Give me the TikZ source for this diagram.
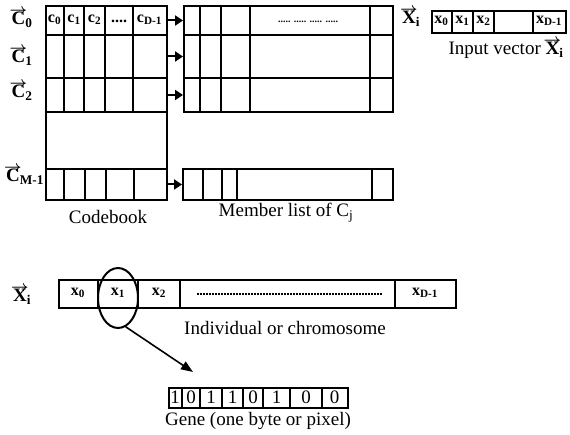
\documentclass[tikz,border=0pt]{standalone}
\usepackage{fix-cm}
\usepackage{amsmath}
\usepackage{graphicx}
\usepackage{fontspec}
\setmainfont{Liberation Serif}
\usetikzlibrary{arrows.meta,shapes.geometric}
\newcommand\varr{\raisebox{0.52em}{\scalebox{0.8}[0.8]{$\boldsymbol{\rightarrow}$}}}
\newcommand\vlab[2]{\textbf{\ooalign{#1\cr\hidewidth\varr\hidewidth\cr}}$_{\text{\bfseries #2}}$}
\newcommand\bsub[2]{\textbf{#1}$_{\text{\bfseries #2}}$}
\begin{document}
\begin{tikzpicture}[x=1pt,y=-1pt,
  frame/.style={draw,line width=2pt,inner sep=0pt,anchor=north west},
  div/.style={line width=2pt},
  lbl/.style={inner sep=0pt,font=\fontsize{16}{18}\selectfont\bfseries},
  veclab/.style={inner sep=0pt,font=\fontsize{19}{21}\selectfont},
  captxt/.style={inner sep=0pt,font=\fontsize{19}{22}\selectfont},
  bit/.style={inner sep=0pt,font=\fontsize{19}{21}\selectfont},
  arr/.style={line width=2pt,-{Triangle[length=8pt,width=10pt]}},
  arrb/.style={line width=1.6pt,-{Triangle[length=12pt,width=9pt]}},
  selell/.style={draw,ellipse,line width=2pt,inner sep=0pt,minimum width=40pt,minimum height=60pt}]
\useasboundingbox (0,0) rectangle (570,435);

% ---------- Codebook ----------
\node[frame,minimum width=121pt,minimum height=29pt] (cb0) at (45,5) {};
\node[frame,minimum width=121pt,minimum height=43pt] (cb1) at (45,34) {};
\node[frame,minimum width=121pt,minimum height=34pt] (cb2) at (45,77) {};
\node[frame,minimum width=121pt,minimum height=57pt] (cbgap) at (45,111) {};
\node[frame,minimum width=121pt,minimum height=31pt] (cbM) at (45,168) {};
\foreach \x in {64,84,105,133} \draw[div] (\x,5) -- (\x,111);
\foreach \x in {64,85,106,134} \draw[div] (\x,168) -- (\x,199);
\node[lbl] (c0) at (54.5,19.5) {\bsub{c}{0}};
\node[lbl] (c1) at (74,19.5) {\bsub{c}{1}};
\node[lbl] (c2) at (94.5,19.5) {\bsub{c}{2}};
\node[lbl] (cdots) at (119,21) {....};
\node[lbl] (cD) at (149.5,19.5) {\bsub{c}{D-1}};
\node[veclab] (C0) at (22,20) {\vlab{C}{0}};
\node[veclab] (C1) at (22,58) {\vlab{C}{1}};
\node[veclab] (C2) at (22,93) {\vlab{C}{2}};
\node[veclab] (CM) at (25,177) {\vlab{C}{M-1}};
\node[captxt] (cbcap) at (108,217) {Codebook};

% ---------- Member lists ----------
\node[frame,minimum width=209pt,minimum height=29pt] (ml0) at (183,5) {};
\node[frame,minimum width=209pt,minimum height=43pt] (ml1) at (183,34) {};
\node[frame,minimum width=209pt,minimum height=34pt] (ml2) at (183,77) {};
\foreach \x in {200,221,250,370} \draw[div] (\x,5) -- (\x,111);
\node[frame,minimum width=210pt,minimum height=31pt] (mlM) at (182,168) {};
\foreach \x in {203,222,237,372} \draw[div] (\x,168) -- (\x,199);
\node[inner sep=0pt,font=\fontsize{10}{10}\selectfont\bfseries] (mldots) at (308,22) {..... ..... ..... .....};
\node[captxt] (mlcap) at (286,213) {Member list of C$_{\text{j}}$};

\draw[arr] (cb0.east) -- (ml0.west);
\draw[arr] (cb1.east) -- (ml1.west);
\draw[arr] (cb2.east) -- (ml2.west);
\draw[arr] (cbM.east) -- (mlM.west);

% ---------- Input vector ----------
\node[veclab] (Xi) at (411,19) {\vlab{X}{i}};
\node[frame,minimum width=134pt,minimum height=22pt] (iv) at (431,10) {};
\foreach \x in {452,473,494,533} \draw[div] (\x,10) -- (\x,32);
\node[lbl] (ix0) at (441.5,21) {\bsub{x}{0}};
\node[lbl] (ix1) at (462.5,21) {\bsub{x}{1}};
\node[lbl] (ix2) at (483.5,21) {\bsub{x}{2}};
\node[lbl] (ixD) at (549,21) {\bsub{x}{D-1}};
\node[captxt] (ivcap) at (506,50) {Input vector \vlab{X}{i}};

% ---------- Chromosome ----------
\node[veclab] (Xb) at (22,297) {\vlab{X}{i}};
\node[frame,minimum width=397pt,minimum height=28pt] (chr) at (58,279) {};
\foreach \x in {98,138,180,395} \draw[div] (\x,279) -- (\x,307);
\node[lbl] (bx0) at (78,293) {\bsub{x}{0}};
\node[lbl] (bx1) at (118,293) {\bsub{x}{1}};
\node[lbl] (bx2) at (159,293) {\bsub{x}{2}};
\node[lbl] (bxD) at (425,293) {\bsub{x}{D-1}};
\draw[line width=1.6pt,dash pattern=on 2pt off 1pt] (197,294) -- (382,294);
\node[captxt] (chrcap) at (285,328) {Individual or chromosome};
\node[selell] (sel) at (118,298) {};

% ---------- Gene ----------
\coordinate (gt) at (193,372);
\draw[arrb] (sel.-75) -- (gt);
\node[frame,minimum width=179pt,minimum height=20pt] (gene) at (168,387) {};
\foreach \x in {182,200,222,243,263,290,322} \draw[div] (\x,387) -- (\x,407);
\node[bit] (b0) at (175,397) {1};
\node[bit] (b1) at (191,397) {0};
\node[bit] (b2) at (211,397) {1};
\node[bit] (b3) at (232.5,397) {1};
\node[bit] (b4) at (253,397) {0};
\node[bit] (b5) at (276.5,397) {1};
\node[bit] (b6) at (306,397) {0};
\node[bit] (b7) at (334.5,397) {0};
\node[captxt] (genecap) at (258,421) {Gene (one byte or pixel)};
\end{tikzpicture}
\end{document}
